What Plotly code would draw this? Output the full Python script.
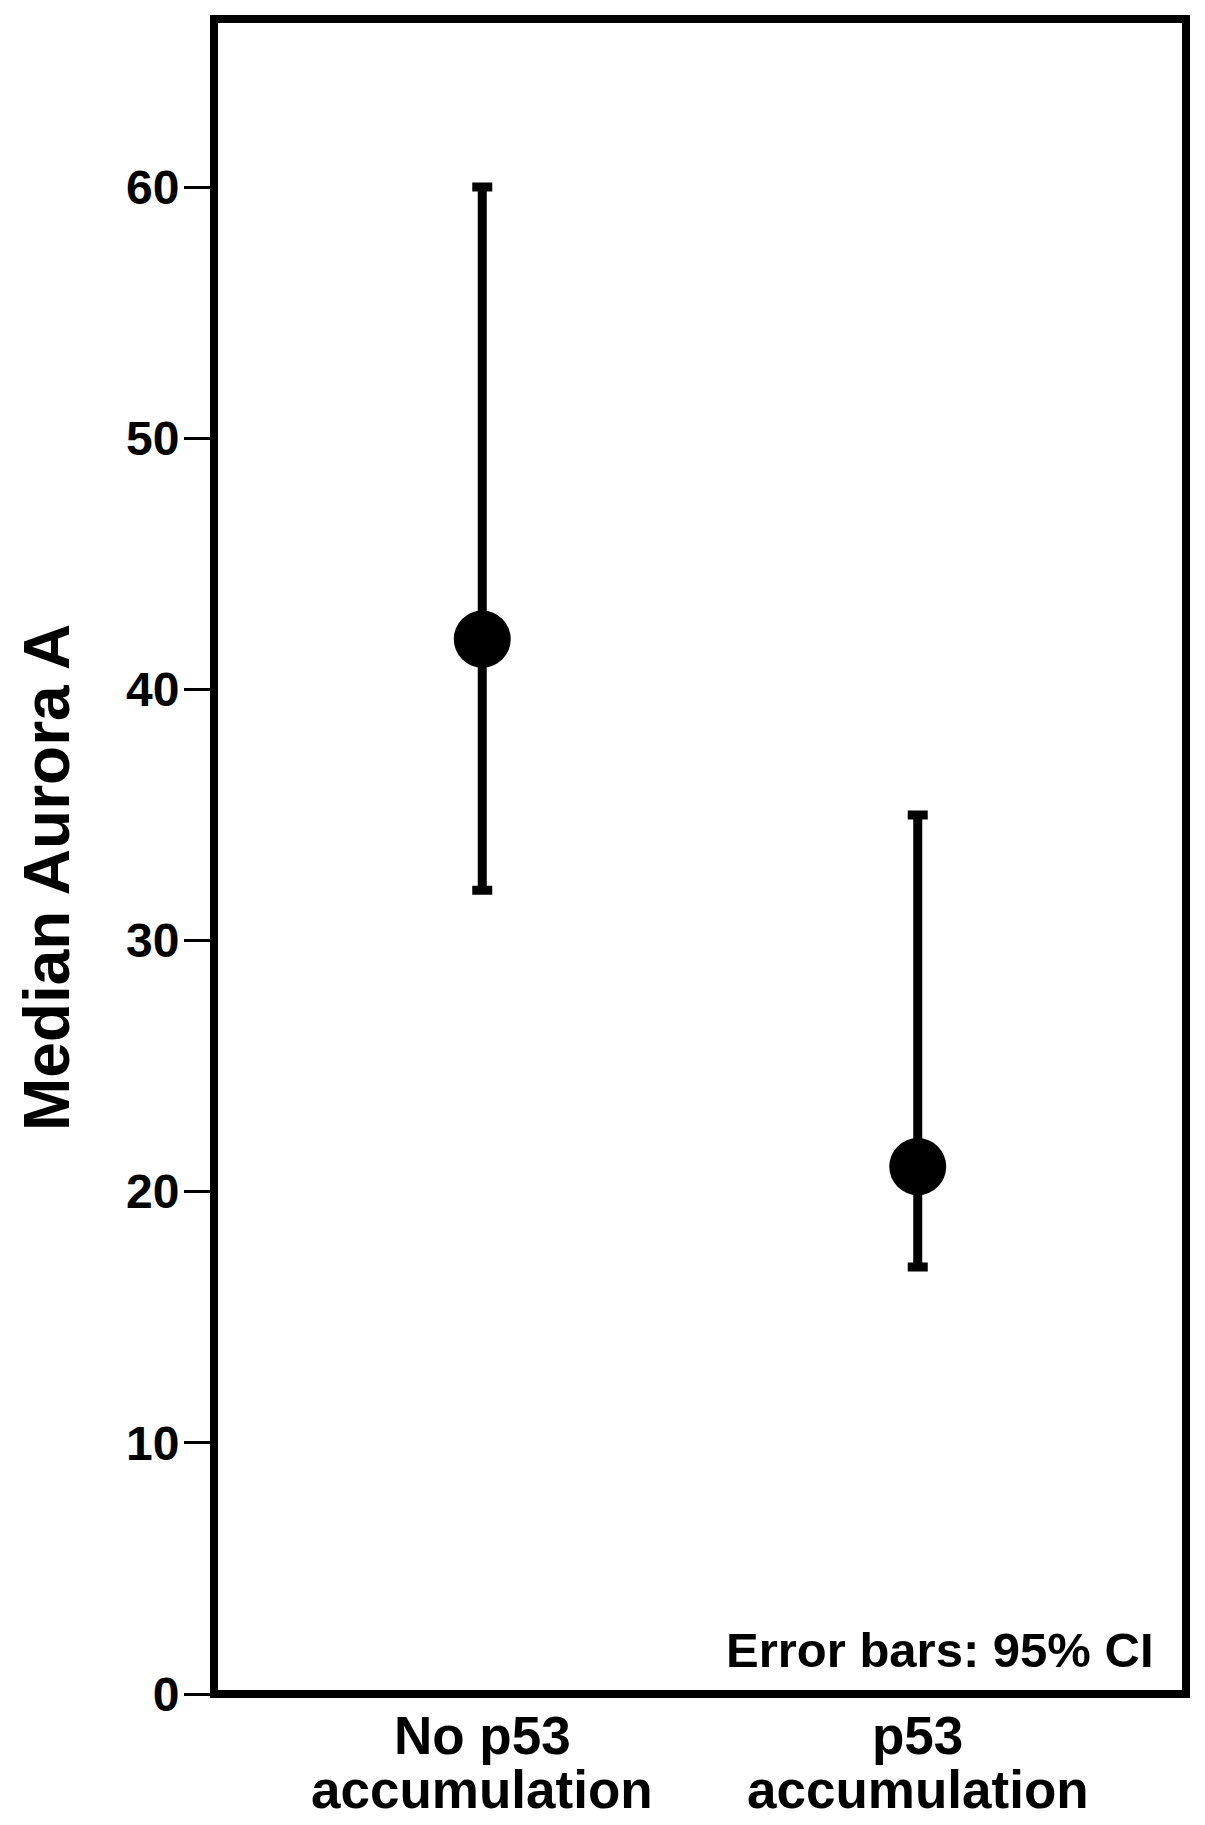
import plotly.graph_objects as go

# ---- data ----
categories = ["No p53 accumulation", "p53 accumulation"]
label_line1 = ["No p53", "p53"]
label_line2 = ["accumulation", "accumulation"]
median_values = [42, 21]
ci_lower = [32, 17]
ci_upper = [60, 35]
y_ticks = [0, 10, 20, 30, 40, 50, 60]

err_plus = [u - m for u, m in zip(ci_upper, median_values)]
err_minus = [m - l for m, l in zip(median_values, ci_lower)]

OFF = 8  # default page body margin
W, H = 1205 - OFF, 1825 - OFF
# plot area in page pixels, converted to figure pixels
L, R, T, B = 214 - OFF, 1186 - OFF, 19 - OFF, 1694 - OFF
PH = B - T
PW = R - L


def px_x(page_x):
    return (page_x - OFF - L) / PW


def px_y(page_y):
    return (B - (page_y - OFF)) / PH


fig = go.Figure()
fig.add_trace(go.Scatter(
    x=categories, y=median_values, mode="markers",
    marker=dict(size=57, color="black", symbol="circle"),
    error_y=dict(type="data", symmetric=False, array=err_plus, arrayminus=err_minus,
                 color="black", thickness=9, width=10),
    showlegend=False, hoverinfo="skip",
))

bold = "Liberation Sans, Arial, sans-serif"

fig.update_layout(
    width=W, height=H,
    margin=dict(l=L, r=W - R, t=T, b=H - B),
    paper_bgcolor="white", plot_bgcolor="white",
    xaxis=dict(
        type="category", range=[-0.616, 1.616],
        showline=False, showgrid=False, zeroline=False,
        showticklabels=False, ticks="",
    ),
    yaxis=dict(
        range=[0, 66.69],
        showline=False, showgrid=False, zeroline=False,
        tickmode="array", tickvals=y_ticks, ticktext=[str(v) for v in y_ticks],
        ticks="outside", ticklen=29, tickwidth=3, tickcolor="black",
        ticklabelstandoff=-5,
        tickfont=dict(family=bold, size=48, color="black", weight="bold"),
    ),
)

# plot frame
fig.add_shape(type="rect", xref="paper", yref="paper", x0=0, x1=1, y0=0, y1=1,
              line=dict(color="black", width=8), fillcolor="rgba(0,0,0,0)", layer="above")

# y-axis title
fig.add_annotation(
    text="Median Aurora A", textangle=-90,
    xref="paper", yref="paper",
    x=px_x(47), y=px_y(878), xanchor="center", yanchor="middle",
    showarrow=False, font=dict(family=bold, size=64, color="black", weight="bold"),
)

# category labels (two lines each)
for cat, l1, l2 in zip(categories, label_line1, label_line2):
    fig.add_annotation(text=l1, x=cat, xref="x", y=0, yref="paper",
                       xanchor="center", yanchor="top", yshift=-10, showarrow=False,
                       font=dict(family=bold, size=53, color="black", weight="bold"))
    fig.add_annotation(text=l2, x=cat, xref="x", y=0, yref="paper",
                       xanchor="center", yanchor="top", yshift=-64, showarrow=False,
                       font=dict(family=bold, size=53, color="black", weight="bold"))

# error bar note
fig.add_annotation(
    text="Error bars: 95% CI", xref="paper", yref="paper",
    x=px_x(1156), y=px_y(1621), xanchor="right", yanchor="top",
    showarrow=False, font=dict(family=bold, size=49, color="black", weight="bold"),
)

fig.write_html("out.html")
